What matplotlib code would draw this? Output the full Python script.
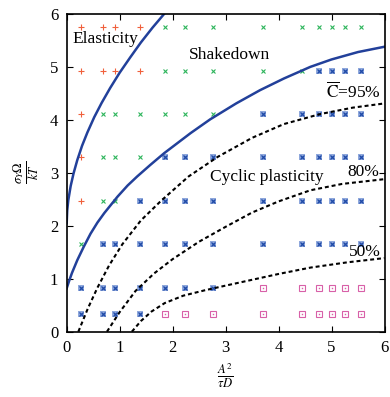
import matplotlib
matplotlib.use('Agg')
import matplotlib.pyplot as plt

plt.rcParams['font.family'] = 'Liberation Serif'
plt.rcParams['mathtext.fontset'] = 'stix'

# grid of simulated points
xs = [0.27, 0.68, 0.92, 1.39, 1.85, 2.23, 2.77, 3.70, 4.44, 4.77, 5.01, 5.26, 5.56]
ys = [5.75, 4.92, 4.11, 3.30, 2.47, 1.65, 0.83, 0.34]
# e = elastic, s = shakedown, c = cyclic plasticity, r = squares
regimes = [
    "eeeesssssssss",
    "eeeessssscccc",
    "esssssscccccc",
    "essscccccccccc"[:13],
    "esscccccccccc",
    "scccccccccccc",
    "cccccccrrrrrr",
    "ccccrrrrrrrrr",
]

# boundary curves
elastic_x = [0.0, 0.01, 0.03, 0.075, 0.13, 0.20, 0.29, 0.39, 0.52, 0.66, 0.82, 1.0, 1.2, 1.4, 1.62, 1.84, 1.86]
elastic_y = [2.05, 2.29, 2.48, 2.75, 2.99, 3.24, 3.51, 3.76, 4.05, 4.32, 4.60, 4.89, 5.18, 5.46, 5.74, 6.0, 6.03]
shake_x = [0.0, 0.05, 0.10, 0.20, 0.32, 0.45, 0.58, 0.71, 0.96, 1.15, 1.33, 1.58, 1.84, 2.34,
           2.71, 3.2, 3.65, 4.1, 4.6, 5.0, 5.5, 6.0]
shake_y = [0.82, 0.97, 1.11, 1.35, 1.60, 1.85, 2.06, 2.24, 2.55, 2.76, 2.93, 3.15, 3.37, 3.75,
           4.01, 4.31, 4.56, 4.78, 5.00, 5.14, 5.28, 5.38]

c95_x = [0.22, 0.4, 0.58, 0.8, 1.05, 1.4, 1.78, 2.3, 2.85, 3.5, 4.1, 4.79, 5.4, 6.0]
c95_y = [0.0, 0.44, 0.83, 1.25, 1.65, 2.10, 2.47, 2.93, 3.30, 3.66, 3.92, 4.11, 4.23, 4.31]
c80_x = [0.76, 1.0, 1.3, 1.65, 2.0, 2.5, 3.0, 3.5, 4.0, 4.6, 5.2, 6.0]
c80_y = [0.0, 0.37, 0.77, 1.10, 1.37, 1.70, 1.98, 2.25, 2.46, 2.67, 2.79, 2.88]
c50_x = [1.23, 1.4, 1.6, 1.85, 2.2, 2.6, 3.0, 3.5, 4.0, 4.6, 5.3, 6.0]
c50_y = [0.0, 0.20, 0.38, 0.54, 0.68, 0.78, 0.87, 0.98, 1.09, 1.21, 1.31, 1.39]

fig = plt.figure(figsize=(3.9, 3.97), dpi=100)
ax = fig.add_axes([0.171, 0.1645, 0.815, 0.8005])

pts = {k: ([], []) for k in 'escr'}
for y, row in zip(ys, regimes):
    for x, k in zip(xs, row):
        pts[k][0].append(x)
        pts[k][1].append(y)

ax.plot(*pts['e'], ls='none', marker='+', ms=4, mew=0.8, color='#f0603c')
ax.plot(*pts['s'], ls='none', marker='x', ms=3.3, mew=0.8, color='#2cb45a')
ax.plot(*pts['c'], ls='none', marker='s', ms=3.8, mew=0, color='#8fa8dc')
ax.plot(*pts['c'], ls='none', marker='x', ms=3.0, mew=0.9, color='#1f4aa8')
ax.plot(*pts['r'], ls='none', marker='s', ms=3.8, mew=0.8, mfc='none', color='#d860a8')
ax.plot(*pts['r'], ls='none', marker='s', ms=1.0, mew=0, color='#d860a8')

ax.plot(elastic_x, elastic_y, color='#22409a', lw=1.8)
ax.plot(shake_x, shake_y, color='#22409a', lw=1.8)
for cx, cy in [(c95_x, c95_y), (c80_x, c80_y), (c50_x, c50_y)]:
    ax.plot(cx, cy, color='black', lw=1.5, ls=(0, (1.9, 1.4)))

fs = 12.5
ax.text(0.1, 5.53, 'Elasticity', fontsize=fs, va='center', ha='left')
ax.text(2.31, 5.22, 'Shakedown', fontsize=fs, va='center', ha='left')
ax.text(5.93, 4.52, r'$\overline{\rm C}$=95%', fontsize=fs, va='center', ha='right')
ax.text(2.71, 2.93, 'Cyclic plasticity', fontsize=fs, va='center', ha='left')
ax.text(5.9, 3.02, '80%', fontsize=fs, va='center', ha='right')
ax.text(5.93, 1.51, '50%', fontsize=fs, va='center', ha='right')

ax.set_xlim(0, 6)
ax.set_ylim(0, 6)
ax.set_xticks(range(7))
ax.set_yticks(range(7))
ax.tick_params(direction='in', top=True, right=True, labelsize=12, pad=6, width=0.8, length=4)
for sp in ax.spines.values():
    sp.set_linewidth(1.2)

ax.set_xlabel(r'$\frac{A^2}{\tau D}$', fontsize=13, labelpad=4)
ax.set_ylabel(r'$\frac{\sigma_Y\Omega}{kT}$', fontsize=13, labelpad=6)

fig.savefig('out.png', dpi=100)
